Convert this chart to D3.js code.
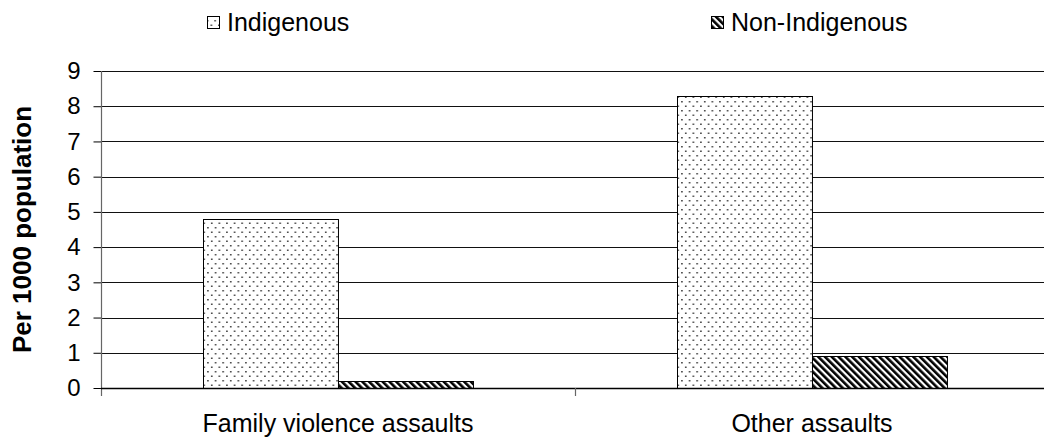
<!DOCTYPE html>
<html><head><meta charset="utf-8">
<script src="https://cdn.jsdelivr.net/npm/d3@7"></script>
<style>body{margin:0;background:#fff}svg{display:block}text{font-family:Arial,"Liberation Sans",sans-serif}</style>
</head><body><svg id="c" width="1044" height="438"></svg>
<script>
const categories = ["Family violence assaults", "Other assaults"];
const seriesNames = ["Indigenous", "Non-Indigenous"];
const indigenous = [4.8, 8.3];
const nonIndigenous = [0.2, 0.9];
const yTicks = [0,1,2,3,4,5,6,7,8,9];
const yTitle = "Per 1000 population";

(function(){
const svg = d3.select("#c");
const W = 1044, H = 438;
const pLeft = 101, pRight = 1049, pTop = 71, pBottom = 388;

const defs = svg.append("defs");
const dots = defs.append("pattern").attr("id","dots").attr("patternUnits","userSpaceOnUse")
  .attr("width",7.6).attr("height",9).attr("x",203).attr("y",0);
dots.append("rect").attr("width",7.6).attr("height",9).attr("fill","#fff");
dots.append("rect").attr("x",2).attr("y",2).attr("width",1.5).attr("height",1.5).attr("fill","#333");
dots.append("rect").attr("x",5.8).attr("y",6.5).attr("width",1.5).attr("height",1.5).attr("fill","#333");
const stripes = defs.append("pattern").attr("id","stripes").attr("patternUnits","userSpaceOnUse")
  .attr("width",4.8).attr("height",10).attr("patternTransform","rotate(-45)");
stripes.append("rect").attr("width",4.8).attr("height",10).attr("fill","#fff");
stripes.append("rect").attr("width",2.6).attr("height",10).attr("fill","#000");
const fills = {"Indigenous":"url(#dots)","Non-Indigenous":"url(#stripes)"};

const y = d3.scaleLinear().domain([0,9]).range([pBottom, pTop]);
const x0 = d3.scaleBand().domain(categories).range([pLeft, pRight]).paddingInner(0).paddingOuter(0);
const x1 = d3.scaleBand().domain(seriesNames).range([0, x0.bandwidth()]).paddingInner(0).paddingOuter(0.756);

// gridlines
svg.append("g").selectAll("line").data(yTicks.filter(d=>d>0)).join("line")
  .attr("x1",pLeft).attr("x2",W).attr("y1",d=>Math.round(y(d))+0.5).attr("y2",d=>Math.round(y(d))+0.5)
  .attr("stroke","#111").attr("stroke-width",1.1);

// y axis
const ya = svg.append("g").attr("transform",`translate(${pLeft+0.5},0)`)
  .call(d3.axisLeft(y).tickValues(yTicks).tickSize(8).tickPadding(13).tickFormat(d3.format("d")));
ya.select(".domain").remove();
ya.selectAll(".tick line").attr("stroke","#000");
ya.selectAll(".tick text").attr("font-size",24).attr("fill","#000").attr("font-family","Arial, 'Liberation Sans', sans-serif");

// bars
const data = categories.map((c,i)=>({c, vals:[{s:"Indigenous",v:indigenous[i]},{s:"Non-Indigenous",v:nonIndigenous[i]}]}));
svg.append("g").selectAll("g").data(data).join("g")
  .attr("transform",d=>`translate(${x0(d.c)},0)`)
  .selectAll("rect").data(d=>d.vals).join("rect")
  .attr("x",d=>Math.round(x1(d.s))+0.5).attr("y",d=>Math.round(y(d.v))+0.5)
  .attr("width",x1.bandwidth()).attr("height",d=>Math.round(y(0))-Math.round(y(d.v)))
  .attr("fill",d=>fills[d.s]).attr("stroke","#000").attr("stroke-width",1);

// y axis line
svg.append("line").attr("x1",pLeft+0.5).attr("x2",pLeft+0.5).attr("y1",pTop).attr("y2",pBottom+8)
  .attr("stroke","#666").attr("stroke-width",1.2);
// x axis line
svg.append("line").attr("x1",pLeft).attr("x2",W).attr("y1",Math.round(y(0))+0.5).attr("y2",Math.round(y(0))+0.5)
  .attr("stroke","#000").attr("stroke-width",1.3);
// x ticks at band boundaries
const bounds = categories.map(c=>x0(c)).concat([x0(categories[categories.length-1])+x0.bandwidth()]).filter(v=>v>pLeft && v<W);
svg.append("g").selectAll("line").data(bounds).join("line")
  .attr("x1",d=>Math.round(d)+0.5).attr("x2",d=>Math.round(d)+0.5).attr("y1",pBottom).attr("y2",pBottom+8)
  .attr("stroke","#666").attr("stroke-width",1.2);
// category labels
svg.append("g").selectAll("text").data(categories).join("text")
  .attr("x",d=>x0(d)+x0.bandwidth()/2).attr("y",432).attr("text-anchor","middle")
  .attr("font-size",25).attr("fill","#000").text(d=>d);

// y title
svg.append("text").attr("transform",`translate(31,${(pTop+pBottom)/2}) rotate(-90)`)
  .attr("text-anchor","middle").attr("font-size",26).attr("font-weight","bold").attr("fill","#000").text(yTitle);

// legend
const legX = [207, 711];
const lg = svg.append("g").selectAll("g").data(seriesNames).join("g")
  .attr("transform",(d,i)=>`translate(${legX[i]},0)`);
lg.append("rect").attr("x",0.5).attr("y",16.5).attr("width",12).attr("height",12)
  .attr("fill",d=>fills[d]).attr("stroke","#000").attr("stroke-width",1);
lg.append("text").attr("x",20).attr("y",31).attr("font-size",25).attr("fill","#000").text(d=>d);
})();
</script></body></html>
